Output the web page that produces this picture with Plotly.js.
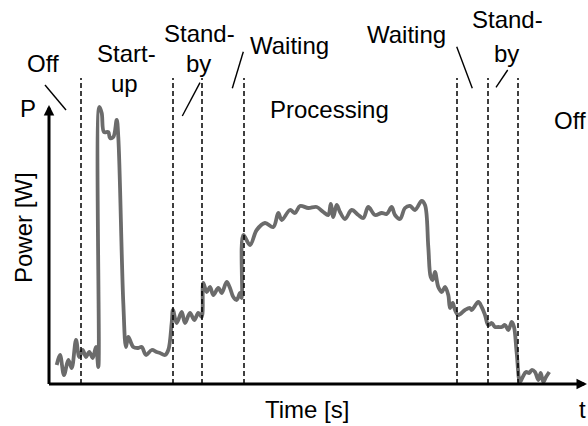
<!DOCTYPE html>
<html>
<head>
<meta charset="utf-8">
<script src="https://cdn.plot.ly/plotly-3.0.1.min.js"></script>
<style>html,body{margin:0;padding:0;background:#fff;}#chart{width:588px;height:426px;}</style>
</head>
<body>
<div id="chart"></div>
<script>
// Time (arbitrary units) and power (arbitrary units)
const timeVals = [56.7,60,64,68.3,71.7,76,79.3,82.7,86,89.3,92.7,96,98.3,99.3,101.7,104,108.3,110,113.3,116.7,118.3,123.3,126,128.3,133.3,138.3,141.7,146,151.7,156.7,160,165,168.3,171.7,173,176.7,181.7,185,190,194.3,198.3,201.7,203.3,206.7,210,213.3,218.3,221.7,226.7,230,233.3,236.7,240,241.7,243.3,250,256.7,265,273.3,278.3,281.7,290,295,300,308.3,316.7,323.3,328.3,330.7,333.3,336.7,340,345,351.7,358.3,363.3,368.3,375,381.7,386.7,391.7,395,400,405,410,415,421.7,425,428.3,430.7,432.7,435,438.3,441.7,445,448.3,450,452.7,455,458.3,465,470,471.7,478.3,481.7,485,488.3,491.7,495,498.3,501.7,505,508.3,511.7,514,516.7,520,522.7,526,529.3,531.7,535,538.3,540.7,543.3,546,549.3];
const powerVals = [19,29,9,24,16,44,27,34,27,32,26,37,17,277,271,252,252,246,247,264,247,81,37,47,37,36,37,29,34,32,31,29,34,61,74,61,72,61,71,64,71,67,101,92,97,89,96,91,102,96,87,84,91,86,149,139,154,161,157,171,164,174,171,178,176,177,172,169,180,167,179,172,165,174,169,166,177,169,171,170,177,169,165,176,178,174,183,179,137,107,104,112,97,92,97,89,76,81,74,69,74,76,74,82,77,69,59,61,57,57,57,59,54,62,57,31,2,7,12,11,14,12,4,11,2,7,12];

// Phase boundaries (time units)
const phaseBounds = [81, 173, 202, 244, 457, 488, 518];

// Phase labels (each entry one text line)
const phaseLabels = ["Off", "Start-", "up", "Stand-", "by", "Waiting", "Processing", "Waiting", "Stand-", "by", "Off"];
const axisLabels = {x: "Time [s]", y: "Power [W]", xSym: "t", ySym: "P"};

const labelPos = [
  [43, 320.5], [126, 331], [124, 301], [199, 351], [198.5, 320.5],
  [289, 339], [329, 275], [406, 349.5], [507.5, 365], [506, 331], [570, 264]
];
const leaders = [
  [[45, 299], [66, 274]],
  [[200, 301.3], [182.3, 268]],
  [[243.3, 332.3], [232.3, 295.7]],
  [[456.7, 337.3], [472.3, 295.7]],
  [[507.7, 314], [496, 296.7]]
];

const font = {family: "Liberation Sans, Arial, sans-serif", size: 24, color: "#000"};

const shapes = [];
phaseBounds.forEach(b => {
  shapes.push({type: "line", xref: "x", yref: "y", x0: b, x1: b, y0: 0, y1: 306,
    line: {color: "#000", width: 1.5, dash: "5px,3px"}});
});
leaders.forEach(l => {
  shapes.push({type: "line", xref: "x", yref: "y", x0: l[0][0], y0: l[0][1], x1: l[1][0], y1: l[1][1],
    line: {color: "#000", width: 1.4}});
});

const annotations = [];
phaseLabels.forEach((t, i) => {
  annotations.push({x: labelPos[i][0], y: labelPos[i][1], xref: "x", yref: "y", text: t,
    showarrow: false, xanchor: "center", yanchor: "middle", font: font});
});
annotations.push({x: 27.5, y: 275.7, xref: "x", yref: "y", text: axisLabels.ySym, showarrow: false, xanchor: "center", yanchor: "middle", font: font});
annotations.push({x: 23, y: 156, xref: "x", yref: "y", text: axisLabels.y, textangle: -90, showarrow: false, xanchor: "center", yanchor: "middle", font: font});
annotations.push({x: 306.7, y: -25, xref: "x", yref: "y", text: axisLabels.x, showarrow: false, xanchor: "center", yanchor: "middle", font: font});
annotations.push({x: 582, y: -25, xref: "x", yref: "y", text: axisLabels.xSym, showarrow: false, xanchor: "center", yanchor: "middle", font: font});
// axes with arrowheads
annotations.push({x: 587, y: 0, ax: 47.5, ay: 0, xref: "x", yref: "y", axref: "x", ayref: "y", text: "",
  showarrow: true, arrowhead: 2, arrowwidth: 3, arrowsize: 0.7, arrowcolor: "#000", standoff: 0, startstandoff: 0});
annotations.push({x: 49, y: 279, ax: 49, ay: -1.5, xref: "x", yref: "y", axref: "x", ayref: "y", text: "",
  showarrow: true, arrowhead: 2, arrowwidth: 3, arrowsize: 0.7, arrowcolor: "#000", standoff: 0, startstandoff: 0});

const trace = {
  x: timeVals, y: powerVals, type: "scatter", mode: "lines",
  line: {color: "#6b6b6b", width: 3.8, shape: "spline", smoothing: 1},
  hoverinfo: "skip", cliponaxis: false
};

const layout = {
  width: 588, height: 426,
  margin: {l: 0, r: 0, t: 0, b: 0, pad: 0},
  paper_bgcolor: "#fff", plot_bgcolor: "#fff",
  showlegend: false,
  xaxis: {range: [0, 588], visible: false, fixedrange: true},
  yaxis: {range: [-42, 384], visible: false, fixedrange: true},
  shapes: shapes,
  annotations: annotations
};

Plotly.newPlot("chart", [trace], layout, {staticPlot: true, displayModeBar: false});
</script>
</body>
</html>
